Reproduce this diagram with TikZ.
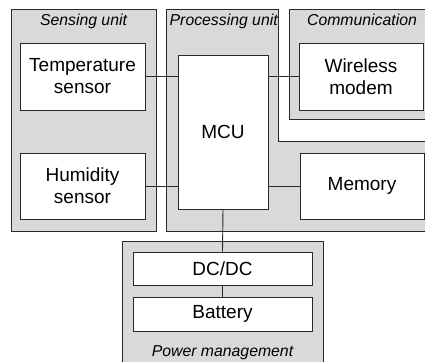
\documentclass[tikz,border=0pt]{standalone}
\usepackage{fontspec}
\setmainfont{Liberation Sans}
\definecolor{boxgray}{RGB}{217,217,217}
\definecolor{edge}{RGB}{40,40,40}
\begin{document}
\begin{tikzpicture}[x=1pt,y=-1pt,
  container/.style={draw=edge, fill=boxgray, line width=0.9pt},
  unit/.style={draw=edge, fill=white, line width=0.9pt, align=center,
    font=\fontsize{19}{22}\selectfont, inner sep=0pt},
  grouplabel/.style={font=\fontsize{15.8}{19}\selectfont\itshape, inner sep=0pt},
  link/.style={draw=edge, line width=0.9pt}]
\useasboundingbox (0,0) rectangle (425,361);
% containers
\path[container] (11,9) rectangle (156,231);
\path[container] (166,9) -- (278,9) -- (278,141.5) -- (445,141.5) -- (445,231) -- (166,231) -- cycle;
\path[container] (289,9) rectangle (435,119);
\path[container] (122,241) rectangle (323,375);
% group labels
\node[grouplabel, anchor=base] (lsens) at (83.5,26) {Sensing unit};
\node[grouplabel, anchor=base west] (lproc) at (169.5,26) {Processing unit};
\node[grouplabel, anchor=base] (lcomm) at (362,26) {Communication};
\node[grouplabel, anchor=base] (lpow) at (222.5,356) {Power management};
% units
\node[unit, minimum width=125pt, minimum height=67pt] (temp) at (82.5,76.5) {Temperature\\sensor};
\node[unit, minimum width=125pt, minimum height=66pt] (humid) at (82.5,186) {Humidity\\sensor};
\node[unit, minimum width=90pt, minimum height=154pt] (mcu) at (223,132) {MCU};
\node[unit, minimum width=124pt, minimum height=67pt] (modem) at (361,76.5) {Wireless\\modem};
\node[unit, minimum width=124pt, minimum height=66pt] (mem) at (362,186) {Memory};
\node[unit, minimum width=179pt, minimum height=33pt] (dcdc) at (222.5,268.5) {DC/DC};
\node[unit, minimum width=179pt, minimum height=34pt] (bat) at (222.5,314) {Battery};
% links
\draw[link] (temp.east) -- (temp.east -| mcu.west);
\draw[link] (humid.east) -- (humid.east -| mcu.west);
\draw[link] (modem.west) -- (modem.west -| mcu.east);
\draw[link] (mem.west) -- (mem.west -| mcu.east);
\draw[link] (mcu.south) -- (dcdc.north);
\draw[link] (dcdc.south) -- (bat.north);
\end{tikzpicture}
\end{document}
